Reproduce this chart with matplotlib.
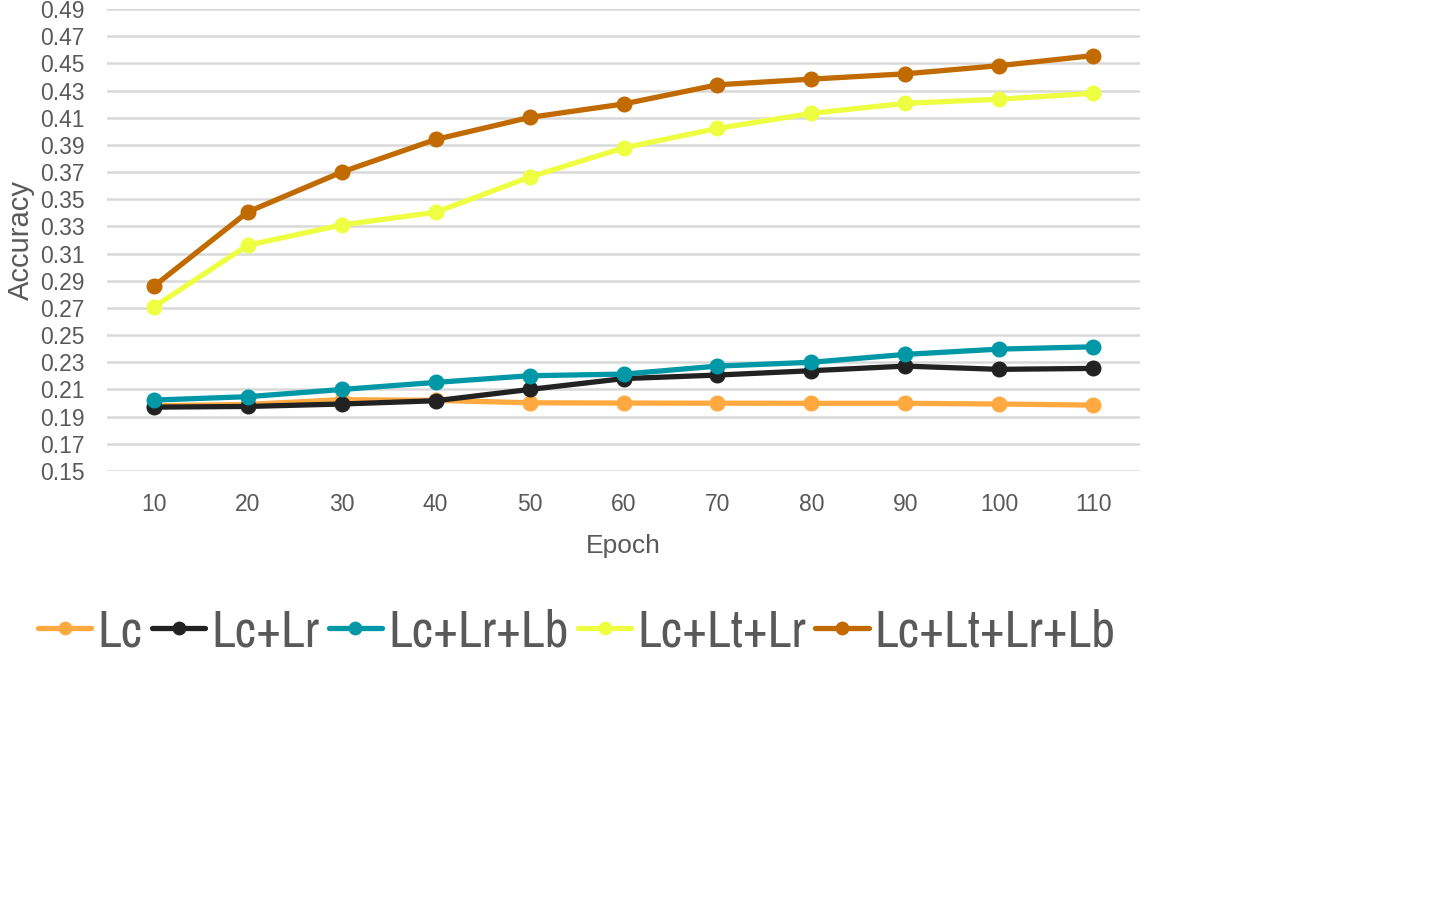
import numpy as np
import matplotlib
matplotlib.use("Agg")
import matplotlib.pyplot as plt
from matplotlib import font_manager

epochs = [10, 20, 30, 40, 50, 60, 70, 80, 90, 100, 110]

lc = [0.198, 0.199, 0.2025, 0.202, 0.2002, 0.2, 0.1999, 0.1998, 0.1998, 0.1993, 0.1985]
lc_lr = [0.197, 0.1975, 0.1993, 0.2017, 0.210, 0.218, 0.2206, 0.2238, 0.2272, 0.2248, 0.2255]
lc_lr_lb = [0.2022, 0.2047, 0.210, 0.2152, 0.2201, 0.2213, 0.2272, 0.230, 0.2358, 0.2397, 0.2414]
lc_lt_lr = [0.2708, 0.3162, 0.3311, 0.3404, 0.3663, 0.3878, 0.4021, 0.4132, 0.4206, 0.4236, 0.428]
lc_lt_lr_lb = [0.286, 0.3407, 0.370, 0.394, 0.4102, 0.4201, 0.4342, 0.4384, 0.4423, 0.4483, 0.4557]

series = [
    ("Lc", lc, "#ffa940"),
    ("Lc+Lr", lc_lr, "#222222"),
    ("Lc+Lr+Lb", lc_lr_lb, "#0098a6"),
    ("Lc+Lt+Lr", lc_lt_lr, "#eeff41"),
    ("Lc+Lt+Lr+Lb", lc_lt_lr_lb, "#c06a00"),
]

yticks = np.round(np.arange(0.15, 0.4901, 0.02), 2)

installed = sorted({f.name for f in font_manager.fontManager.ttflist})
base_font = "Liberation Sans" if "Liberation Sans" in installed else "DejaVu Sans"
narrow = [n for n in installed if "Narrow" in n or "Condensed" in n]
narrow_font = narrow[0] if narrow else "Roboto"
legend_size = 37.5 if narrow else 32
plt.rcParams["font.family"] = [base_font, "DejaVu Sans"]

text_color = "#595959"

fig = plt.figure(figsize=(14.35, 8.99), dpi=100)
ax = fig.add_axes([107 / 1435, 1 - 471 / 899, (1140 - 107) / 1435, (471 - 9) / 899])

for name, vals, color in series:
    ax.plot(epochs, vals, label=name, color=color, linewidth=3.8, marker="o",
            markersize=10.5, solid_capstyle="round")

ax.set_xlim(5, 115)
ax.set_ylim(0.15, 0.49)
ax.set_xticks(epochs)
ax.set_yticks(yticks)
ax.set_yticklabels([f"{v:.2f}" for v in yticks])
ax.tick_params(axis="both", length=0, labelsize=16.5, colors=text_color)
ax.tick_params(axis="y", pad=16)
ax.tick_params(axis="x", pad=16)
ax.yaxis.grid(True, color="#d9d9d9", linewidth=1.8)
ax.set_axisbelow(True)
for s in ax.spines.values():
    s.set_visible(False)

ax.set_xlabel("Epoch", fontsize=19, color=text_color, labelpad=13)
ax.set_ylabel("Accuracy", fontsize=21, color=text_color, labelpad=4)

fig.legend(loc="center", bbox_to_anchor=(577 / 1435, 1 - 632 / 899), ncol=5,
           frameon=False, handlelength=1.02, handletextpad=0.12, columnspacing=0.18,
           prop={"family": [narrow_font, "DejaVu Sans"], "size": legend_size},
           labelcolor=text_color, markerscale=0.85)

fig.savefig("out.png", dpi=100)
